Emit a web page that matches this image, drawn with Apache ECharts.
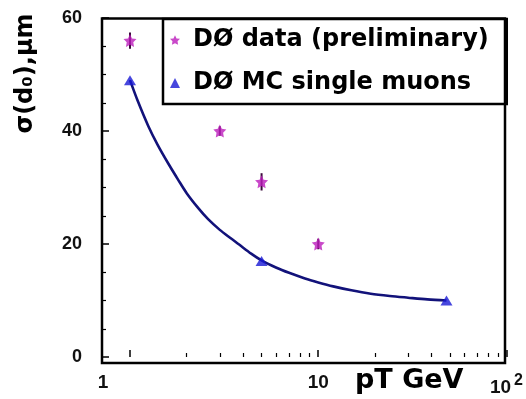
<!DOCTYPE html>
<html>
<head>
<meta charset="utf-8">
<script src="https://cdn.jsdelivr.net/npm/echarts@6/dist/echarts.min.js"></script>
<style>html,body{margin:0;padding:0;background:#fff}#c{width:526px;height:399px}</style>
</head>
<body>
<div id="c"></div>
<script>
// ---- data ----
const dataPT = [1.0, 3.0, 5.0, 10];
const dataSigma = [56, 40, 31, 20];
const dataErr = [0.9, 0.3, 1.0, 0.4];
const mcPT = [1.0, 5.0, 48];
const mcSigma = [49, 17, 10];
const fitPT = [1.0, 1.1, 1.25, 1.4, 1.6, 1.8, 2.0, 2.3, 2.6, 3.0, 3.4, 3.8, 4.4, 5.0, 6.0, 7.0, 8.5, 10, 12, 15, 19, 24, 30, 38, 48];
const fitSigma = [49, 45.3, 40.9, 37.6, 34.2, 31.4, 29.0, 26.4, 24.4, 22.5, 21.1, 19.9, 18.3, 17.1, 15.8, 14.9, 13.9, 13.2, 12.5, 11.8, 11.2, 10.8, 10.5, 10.2, 10];
const xMajorTicks = [1, 10, 100];
const xMinorTicks = [2, 3, 4, 5, 6, 7, 8, 9, 20, 30, 40, 50, 60, 70, 80, 90];
const xLabelValues = [1, 10, 100];
const yTickLabels = ['0', '20', '40', '60'];
const seriesNames = ['DØ data (preliminary)', 'DØ MC single muons'];

const STAR = 'path://M0,-10 L2.9,-4 9.5,-3.1 4.8,1.5 5.9,8.1 0,5 -5.9,8.1 -4.8,1.5 -9.5,-3.1 -2.9,-4 Z';
const starColor = '#bb1cbb';
const triColor = '#1818d4';

const chart = echarts.init(document.getElementById('c'), null, {renderer: 'canvas'});

const option = {
  animation: false,
  backgroundColor: '#fff',
  grid: {left: 130, right: 16, top: 18, bottom: 36},
  xAxis: [
    {
      type: 'log', logBase: 10, min: 1, max: 100, position: 'bottom',
      axisLine: {show: false},
      splitLine: {show: false},
      axisTick: {show: true, inside: true, length: 7, customValues: xMajorTicks,
        lineStyle: {color: '#000', width: 1.5}},
      axisLabel: {
        customValues: xLabelValues, margin: 16,
        fontFamily: 'Liberation Sans', fontWeight: 'bold', fontSize: 19, color: '#111',
        formatter: function (v) {
          if (Math.abs(v - 1) < 1e-6) return '{one|1}';
          if (Math.abs(v - 100) < 1e-6) return '{n|10}{sup|2}';
          return '{n|10}';
        },
        rich: {
          one: {fontFamily: 'Liberation Sans', fontWeight: 'bold', fontSize: 19, color: '#111', padding: [0, 54, 0, 0]},
          n: {fontFamily: 'Liberation Sans', fontWeight: 'bold', fontSize: 19, color: '#111'},
          sup: {fontFamily: 'Liberation Sans', fontWeight: 'bold', fontSize: 16, color: '#111', padding: [0, 0, 14, 3]}
        }
      },
      name: 'pT GeV', nameLocation: 'middle', nameGap: 10, nameMoveOverlap: false,
      nameTextStyle: {fontFamily: 'DejaVu Sans', fontWeight: 'bold', fontSize: 27, color: '#000',
        padding: [0, 0, 0, 182], verticalAlign: 'top'}
    },
    {
      type: 'log', logBase: 10, min: 1, max: 100, position: 'bottom',
      axisLine: {show: false}, splitLine: {show: false},
      axisLabel: {show: false},
      axisTick: {show: true, inside: true, length: 4, customValues: xMinorTicks,
        lineStyle: {color: '#000', width: 1.2}}
    }
  ],
  yAxis: {
    type: 'value', min: 0, max: 60, interval: 20, offset: 28,
    axisLine: {show: false}, splitLine: {show: false},
    axisTick: {show: true, inside: true, length: 7, lineStyle: {color: '#000', width: 1.5}},
    minorTick: {show: true, splitNumber: 4, length: 4, lineStyle: {color: '#000', width: 1.2}},
    axisLabel: {margin: 20, fontFamily: 'Liberation Sans', fontWeight: 'bold', fontSize: 18, color: '#111',
      formatter: function (v) { return yTickLabels[Math.round(v / 20)]; }},
    name: 'σ(d₀),μm', nameLocation: 'middle', nameGap: 64, nameMoveOverlap: false,
    nameTextStyle: {fontFamily: 'DejaVu Sans', fontWeight: 'bold', fontSize: 24, color: '#000',
      padding: [0, 0, 0, 228]}
  },
  legend: {
    left: 163, top: 19, orient: 'vertical',
    padding: [9, 18, 9, 7],
    itemGap: 19, itemWidth: 10, itemHeight: 10,
    borderColor: '#000', borderWidth: 2.5, backgroundColor: '#fff',
    textStyle: {fontFamily: 'DejaVu Sans', fontWeight: 'bold', fontSize: 24, color: '#000',
      width: 302, padding: [0, 0, 0, 8]},
    data: [
      {name: seriesNames[0], icon: STAR},
      {name: seriesNames[1], icon: 'triangle'}
    ]
  },
  series: [
    {
      name: 'fit', type: 'line', smooth: 0.3, showSymbol: false, z: 2,
      data: fitPT.map((x, i) => [x, fitSigma[i]]),
      lineStyle: {color: '#12127a', width: 2.6}
    },
    {
      name: 'errors', type: 'custom', z: 3,
      data: dataPT.map((x, i) => [x, dataSigma[i], dataErr[i]]),
      renderItem: function (params, api) {
        const x = api.value(0), y = api.value(1), e = api.value(2);
        const p1 = api.coord([x, y - e]);
        const p2 = api.coord([x, y + e]);
        return {type: 'line', shape: {x1: p1[0], y1: p1[1] + 3, x2: p2[0], y2: p2[1] - 3},
          style: {stroke: '#3a0a3a', lineWidth: 2}};
      }
    },
    {
      name: seriesNames[0], type: 'scatter', z: 4,
      data: dataPT.map((x, i) => [x, dataSigma[i]]),
      symbol: STAR, symbolSize: 13,
      itemStyle: {color: starColor}
    },
    {
      name: seriesNames[1], type: 'scatter', z: 4,
      data: mcPT.map((x, i) => [x, mcSigma[i]]),
      symbol: 'triangle', symbolSize: [12, 10],
      itemStyle: {color: triColor}
    }
  ],
  graphic: [
    {type: 'rect', z: 100, silent: true,
      shape: {x: 102, y: 18.5, width: 403, height: 344.5},
      style: {fill: 'none', stroke: '#000', lineWidth: 2.5}}
  ]
};
chart.setOption(option);
</script>
</body>
</html>
